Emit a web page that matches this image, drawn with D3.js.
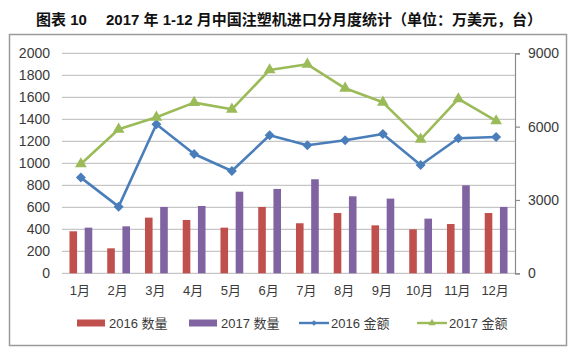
<!DOCTYPE html>
<html>
<head>
<meta charset="utf-8">
<script src="https://cdn.jsdelivr.net/npm/d3@7"></script>
<style>
  html, body { margin: 0; padding: 0; background: #fff; }
  svg { display: block; }
</style>
</head>
<body>
<svg id="chart" width="580" height="356"></svg>
<script>
// ---- data ----
const months = ["1月","2月","3月","4月","5月","6月","7月","8月","9月","10月","11月","12月"];
const qty2016 = [382, 227, 506, 485, 415, 603, 455, 548, 436, 400, 448, 548];
const qty2017 = [415, 427, 603, 612, 742, 767, 855, 700, 679, 497, 800, 603];
const amt2016 = [3914, 2727, 6095, 4882, 4186, 5645, 5236, 5441, 5700, 4432, 5523, 5577];
const amt2017 = [4473, 5891, 6382, 6982, 6709, 8318, 8550, 7568, 6995, 5482, 7132, 6232];
const leftTicks = [0,200,400,600,800,1000,1200,1400,1600,1800,2000];
const rightTicks = [0,3000,6000,9000];
const seriesNames = ["2016 数量","2017 数量","2016 金额","2017 金额"];
const titleText = "图表 10\u2003 2017 年 1-12 月中国注塑机进口分月度统计（单位：万美元，台）";

// ---- styles ----
const C = { red: "#C0504D", purple: "#8064A2", blue: "#4A7EBB", green: "#9BBB59", grid: "#C6C6C6", axis: "#8A8A8A", text: "#3a3a3a" };
const FONT = "'Liberation Sans','Noto Sans CJK SC',sans-serif";

const svg = d3.select("#chart");

// title
svg.append("text")
  .attr("x", 36).attr("y", 25)
  .attr("font-family", FONT).attr("font-size", 15).attr("font-weight", "bold")
  .attr("fill", "#111")
  .attr("textLength", 506).attr("lengthAdjust", "spacing")
  .text(titleText);

// frame
svg.append("rect")
  .attr("x", 9.5).attr("y", 34.5).attr("width", 557).attr("height", 311)
  .attr("fill", "none").attr("stroke", "#9a9a9a").attr("stroke-width", 1.5);

const plot = { left: 62, right: 515, top: 53.3, bottom: 273.3 };

const x = d3.scaleBand().domain(months).range([plot.left, plot.right]).padding(0);
const yL = d3.scaleLinear().domain([0, 2000]).range([plot.bottom, plot.top]);
const yR = d3.scaleLinear().domain([0, 9000]).range([plot.bottom, plot.top]);
const fmt = d3.format("d");

// gridlines
svg.append("g").selectAll("line").data(leftTicks).join("line")
  .attr("x1", plot.left).attr("x2", plot.right)
  .attr("y1", d => yL(d)).attr("y2", d => yL(d))
  .attr("stroke", C.grid).attr("stroke-width", 1.2);

// left axis labels
const leftAxis = d3.axisLeft(yL).tickValues(leftTicks).tickFormat(fmt).tickSize(0).tickPadding(0);
const gL = svg.append("g").attr("transform", `translate(50,0)`).call(leftAxis);
gL.select(".domain").remove();
gL.selectAll("text").attr("font-family", FONT).attr("font-size", 14).attr("fill", C.text);

// right axis
const rightAxis = d3.axisRight(yR).tickValues(rightTicks).tickFormat(fmt).tickSize(5).tickPadding(8);
const gR = svg.append("g").attr("transform", `translate(${plot.right},0)`).call(rightAxis);
gR.select(".domain").attr("stroke", C.axis).attr("stroke-width", 1.2);
gR.selectAll(".tick line").attr("stroke", C.axis).attr("stroke-width", 1.2);
gR.selectAll("text").attr("font-family", FONT).attr("font-size", 14).attr("fill", C.text);

// x axis labels
const bottomAxis = d3.axisBottom(x).tickSize(0).tickPadding(12);
const gB = svg.append("g").attr("transform", `translate(0,${plot.bottom})`).call(bottomAxis);
gB.select(".domain").remove();
gB.selectAll("text").attr("font-family", FONT).attr("font-size", 13).attr("fill", C.text).attr("dx", -1);

// bars
const bw = 7.6, off = 7.6;
const mid = m => x(m) + x.bandwidth() / 2;
svg.append("g").selectAll("rect").data(months).join("rect")
  .attr("x", (m) => mid(m) - off - bw / 2)
  .attr("y", (m, i) => yL(qty2016[i]))
  .attr("width", bw)
  .attr("height", (m, i) => yL(0) - yL(qty2016[i]))
  .attr("fill", C.red);
svg.append("g").selectAll("rect").data(months).join("rect")
  .attr("x", (m) => mid(m) + off - bw / 2)
  .attr("y", (m, i) => yL(qty2017[i]))
  .attr("width", bw)
  .attr("height", (m, i) => yL(0) - yL(qty2017[i]))
  .attr("fill", C.purple);

// lines
const line = d3.line().x((d, i) => mid(months[i])).y(d => yR(d));
function drawLine(vals, color, symType, symSize) {
  svg.append("path").datum(vals)
    .attr("d", line).attr("fill", "none")
    .attr("stroke", color).attr("stroke-width", 2.6).attr("stroke-linejoin", "round");
  svg.append("g").selectAll("path").data(vals).join("path")
    .attr("d", d3.symbol().type(symType).size(symSize))
    .attr("transform", (d, i) => `translate(${mid(months[i])},${yR(d)})` + (symType === d3.symbolSquare ? " rotate(45)" : ""))
    .attr("fill", color);
}
drawLine(amt2016, C.blue, d3.symbolSquare, 50);
drawLine(amt2017, C.green, d3.symbolTriangle, 60);

// legend
const ly = 323;
const legend = svg.append("g").attr("font-family", FONT).attr("font-size", 13).attr("fill", C.text);
const legendItems = [
  { name: seriesNames[0], kind: "bar", color: C.red, x0: 77 },
  { name: seriesNames[1], kind: "bar", color: C.purple, x0: 189 },
  { name: seriesNames[2], kind: "line", color: C.blue, x0: 299, sym: d3.symbolSquare, size: 16 },
  { name: seriesNames[3], kind: "line", color: C.green, x0: 417, sym: d3.symbolTriangle, size: 24 }
];
legendItems.forEach(it => {
  if (it.kind === "bar") {
    legend.append("rect").attr("x", it.x0).attr("y", ly - 3.5).attr("width", 28).attr("height", 7).attr("fill", it.color);
    legend.append("text").attr("x", it.x0 + 32).attr("y", ly).attr("dy", "0.36em").text(it.name);
  } else {
    legend.append("line").attr("x1", it.x0).attr("x2", it.x0 + 30).attr("y1", ly).attr("y2", ly)
      .attr("stroke", it.color).attr("stroke-width", 2.4);
    legend.append("path").attr("d", d3.symbol().type(it.sym).size(it.size)())
      .attr("transform", `translate(${it.x0 + 15},${ly})` + (it.sym === d3.symbolSquare ? " rotate(45)" : ""))
      .attr("fill", it.color);
    legend.append("text").attr("x", it.x0 + 32).attr("y", ly).attr("dy", "0.36em").text(it.name);
  }
});
</script>
</body>
</html>
